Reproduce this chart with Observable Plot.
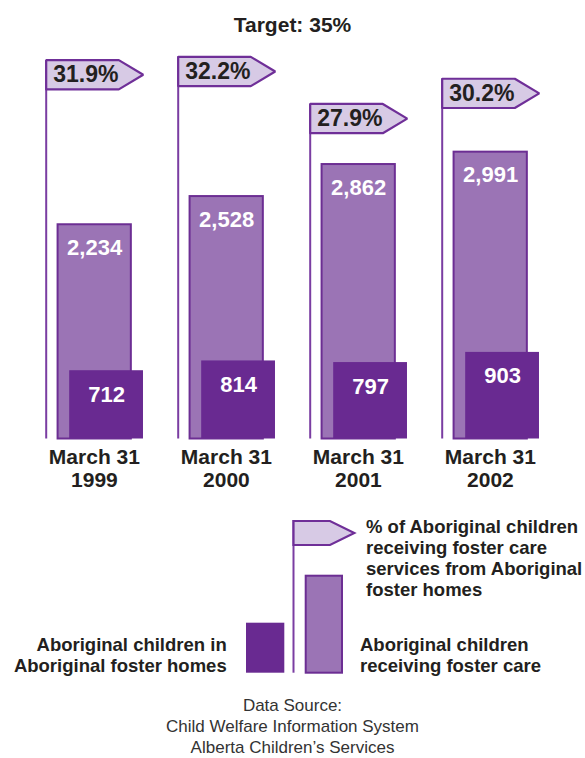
<!DOCTYPE html>
<html>
<head>
<meta charset="utf-8">
<script src="https://cdn.jsdelivr.net/npm/d3@7"></script>
<script src="https://cdn.jsdelivr.net/npm/@observablehq/plot@0.6"></script>
<style>
  body { margin: 0; background: #fff; }
  #page { position: relative; width: 585px; height: 758px; overflow: hidden;
          font-family: "Liberation Sans", Arial, sans-serif; color: #231f20; }
  #title { position: absolute; left: 0; top: 14px; width: 585px; text-align: center;
           font-size: 21px; line-height: 21px; font-weight: bold; }
  #chart { position: absolute; left: 0; top: 40px; }
  #chart svg { display: block; }
  #legend { position: absolute; left: 0; top: 500px; }
  #source { position: absolute; left: 0; top: 695px; width: 585px; text-align: center;
            font-size: 17px; line-height: 21px; color: #333; }
</style>
</head>
<body>
<div id="page">
  <div id="title">Target: 35%</div>
  <div id="chart"></div>
  <div id="legend"></div>
  <div id="source">Data Source:<br>Child Welfare Information System<br>Alberta Children’s Services</div>
</div>
<script>
// Aboriginal children receiving foster care, as of March 31 each year
const dateLabel = "March 31";
const years = ["1999", "2000", "2001", "2002"];
const childrenInFosterCare = [2234, 2528, 2862, 2991];
const inAboriginalFosterHomes = [712, 814, 797, 903];
const percentInAboriginalHomes = [31.9, 32.2, 27.9, 30.2];
const targetPercent = 35;

// Colours
const darkPurple = "#692a91";
const lightPurple = "#9b74b5";
const barOutline = "#6c2e93";
const flagFill = "#d7cae5";
const flagStroke = "#6f2f98";
const poleStroke = "#7a3da2";
const ink = "#231f20";

// Vertical scale is in children; the percentage flags share it so that
// the 35% target sits at the top of the domain.
const yMax = 4000;
const perPercent = yMax / targetPercent;
const flagHeight = 305;

const rows = years.map((year, i) => {
  const base = percentInAboriginalHomes[i] * perPercent;
  return {
    i,
    year,
    total: childrenInFosterCare[i],
    inHomes: inAboriginalFosterHomes[i],
    pct: percentInAboriginalHomes[i],
    flagBase: base,
    flagTop: base + flagHeight,
    flagMid: base + flagHeight / 2
  };
});

// Pennant outline for each year, closed back to its starting corner
const flagPoints = rows.flatMap(d => [
  {i: d.i, x: d.i, y: d.flagBase},
  {i: d.i, x: d.i, y: d.flagTop},
  {i: d.i, x: d.i + 0.55, y: d.flagTop},
  {i: d.i, x: d.i + 0.735, y: d.flagMid},
  {i: d.i, x: d.i + 0.55, y: d.flagBase},
  {i: d.i, x: d.i, y: d.flagBase}
]);

const fmt = d3.format(",");

const chart = Plot.plot({
  width: 585,
  height: 460,
  marginLeft: 45.7,
  marginRight: 11.3,
  marginTop: 14.9,
  marginBottom: 61.5,
  style: {fontFamily: "'Liberation Sans', Arial, sans-serif", background: "transparent", color: ink},
  x: {domain: [0, 4], axis: null},
  y: {domain: [0, yMax], axis: null},
  marks: [
    // flag poles
    Plot.ruleX(rows, {x: "i", y1: 0, y2: "flagTop", stroke: poleStroke, strokeWidth: 2}),
    // pennants
    Plot.line(flagPoints, {x: "x", y: "y", z: "i", fill: flagFill, stroke: flagStroke,
                           strokeWidth: 2.2, strokeLinejoin: "miter"}),
    Plot.text(rows, {x: d => d.i + 0.30, y: "flagMid", text: d => d.pct.toFixed(1) + "%",
                     fontSize: 23, fontWeight: "bold", fill: ink}),
    // all Aboriginal children receiving foster care
    Plot.rect(rows, {x1: d => d.i + 0.09, x2: d => d.i + 0.645, y1: 0, y2: "total",
                     fill: lightPurple, stroke: barOutline, strokeWidth: 2}),
    Plot.text(rows, {x: d => d.i + 0.367, y: "total", text: d => fmt(d.total), dy: 23,
                     fontSize: 22, fontWeight: "bold", fill: "white"}),
    // those placed in Aboriginal foster homes
    Plot.rect(rows, {x1: d => d.i + 0.178, x2: d => d.i + 0.737, y1: 0, y2: "inHomes",
                     fill: darkPurple}),
    Plot.text(rows, {x: d => d.i + 0.457, y: "inHomes", text: d => fmt(d.inHomes), dy: 24,
                     fontSize: 22, fontWeight: "bold", fill: "white"}),
    // date labels under each group
    Plot.text(rows, {x: d => d.i + 0.365, y: 0, text: d => `${dateLabel}\n${d.year}`,
                     lineAnchor: "top", lineHeight: 1.095, dy: 9,
                     fontSize: 21, fontWeight: "bold", fill: ink})
  ]
});
document.getElementById("chart").appendChild(chart);

// Legend
const legendLeft = ["Aboriginal children in", "Aboriginal foster homes"];
const legendBar = ["Aboriginal children", "receiving foster care"];
const legendFlag = ["% of Aboriginal children", "receiving foster care",
                    "services from Aboriginal", "foster homes"];

const lg = d3.create("svg")
  .attr("width", 585).attr("height", 190)
  .style("display", "block")
  .style("font-family", "'Liberation Sans', Arial, sans-serif");

lg.append("rect").attr("x", 246).attr("y", 122.7).attr("width", 38.3).attr("height", 50)
  .attr("fill", darkPurple);
lg.append("line").attr("x1", 293.5).attr("x2", 293.5).attr("y1", 20).attr("y2", 172.7)
  .attr("stroke", poleStroke).attr("stroke-width", 2);
lg.append("path").attr("d", "M293.5,45V21H330L354.3,33L330,45Z")
  .attr("fill", flagFill).attr("stroke", flagStroke).attr("stroke-width", 2.2)
  .attr("stroke-linejoin", "miter");
lg.append("rect").attr("x", 305.7).attr("y", 75.7).attr("width", 36.3).attr("height", 97)
  .attr("fill", lightPurple).attr("stroke", barOutline).attr("stroke-width", 2);

function block(lines, x, y0, anchor) {
  const t = lg.append("text").attr("x", x).attr("y", y0).attr("text-anchor", anchor)
    .attr("font-size", 18.5).attr("font-weight", "bold").attr("fill", ink);
  lines.forEach((s, k) => t.append("tspan").attr("x", x).attr("y", y0 + k * 21).text(s));
}
block(legendFlag, 366, 33, "start");
block(legendBar, 360, 151, "start");
block(legendLeft, 226.7, 150.5, "end");

document.getElementById("legend").appendChild(lg.node());
</script>
</body>
</html>
